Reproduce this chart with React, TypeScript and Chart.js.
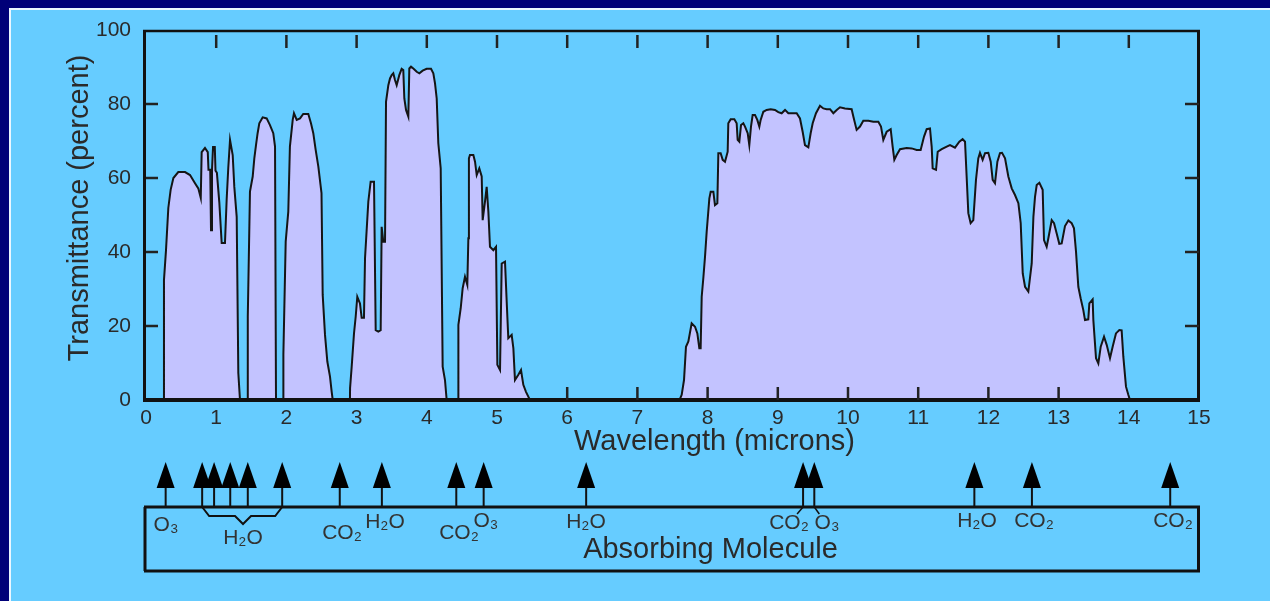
import React, { useEffect, useRef } from "react";
import { Chart, registerables } from "chart.js";

Chart.register(...registerables);

const FONT = '"Liberation Sans", Arial, Helvetica, sans-serif';

// Wavelength (microns) and transmittance (percent)
const wavelength = [
  0, 0.25,
  0.256, 0.285, 0.318, 0.351, 0.39, 0.46, 0.556, 0.627, 0.698, 0.745, 0.78, 0.793, 0.84, 0.88, 0.89, 0.915, 0.926, 0.94,
  0.955, 0.98, 0.99, 1.01, 1.044, 1.078, 1.125, 1.149, 1.172, 1.197, 1.235, 1.258, 1.292, 1.315, 1.339,
  1.449, 1.45, 1.481, 1.52, 1.543, 1.567, 1.59, 1.614, 1.662, 1.719, 1.766, 1.813, 1.838, 1.852,
  1.955, 1.957, 1.99, 2.027, 2.05, 2.09, 2.108, 2.147, 2.194, 2.24, 2.312, 2.35, 2.383, 2.417, 2.455, 2.5, 2.517,
  2.55, 2.583, 2.621, 2.645, 2.66,
  2.905, 2.907, 2.93, 2.963, 2.987, 3.01, 3.048, 3.072, 3.105, 3.12, 3.167, 3.2, 3.248, 3.272, 3.309, 3.343, 3.357,
  3.38, 3.405, 3.419, 3.452, 3.476, 3.5, 3.523, 3.547, 3.571, 3.608, 3.642, 3.665, 3.68, 3.704, 3.737, 3.751, 3.775,
  3.808, 3.856, 3.894, 3.941, 3.998, 4.06, 4.093, 4.117, 4.141, 4.164, 4.198, 4.226, 4.259, 4.283,
  4.448, 4.45, 4.483, 4.511, 4.544, 4.577, 4.592, 4.6, 4.615, 4.663, 4.687, 4.711, 4.748, 4.782, 4.796, 4.829, 4.853,
  4.877, 4.9, 4.948, 4.986, 5.005, 5.043, 5.067, 5.114, 5.138, 5.161, 5.209, 5.233, 5.256, 5.304, 5.342, 5.375,
  5.413, 5.446, 5.47,
  7.6, 7.631, 7.664, 7.692, 7.726, 7.773, 7.821, 7.854, 7.882, 7.901, 7.916, 7.939, 7.963, 7.987, 8.025, 8.044,
  8.082, 8.105, 8.139, 8.153, 8.186, 8.215, 8.248, 8.286, 8.295, 8.329, 8.381, 8.414, 8.428, 8.452, 8.476, 8.509,
  8.533, 8.571, 8.594, 8.618, 8.642, 8.675, 8.708, 8.737, 8.756, 8.794, 8.841, 8.898, 8.96, 9.007, 9.055, 9.103,
  9.15, 9.198, 9.269, 9.316, 9.354, 9.387, 9.435, 9.468, 9.497, 9.544, 9.601, 9.649, 9.696, 9.744, 9.791, 9.839,
  9.886, 9.957, 10.052, 10.076, 10.123, 10.171, 10.218, 10.29, 10.361, 10.432, 10.47, 10.503, 10.551, 10.608,
  10.636, 10.66, 10.693, 10.741, 10.836, 10.907, 10.978, 11.035, 11.083, 11.121, 11.168, 11.192, 11.206, 11.254,
  11.278, 11.335, 11.406, 11.453, 11.524, 11.586, 11.633, 11.667, 11.69, 11.714, 11.747, 11.785, 11.823, 11.856,
  11.88, 11.918, 11.952, 11.999, 12.033, 12.061, 12.094, 12.128, 12.165, 12.194, 12.237, 12.284, 12.332, 12.379,
  12.427, 12.46, 12.489, 12.522, 12.569, 12.617, 12.641, 12.664, 12.688, 12.726, 12.773, 12.792, 12.83, 12.854,
  12.902, 12.935, 12.972, 13.01, 13.044, 13.091, 13.139, 13.186, 13.219, 13.248, 13.281, 13.314, 13.352, 13.376,
  13.423, 13.438, 13.485, 13.495, 13.533, 13.566, 13.6, 13.647, 13.685, 13.732, 13.77, 13.817, 13.865, 13.898,
  13.922, 13.96, 13.993, 14.017, 15,
];

const transmittance = [
  0, 0,
  32.4, 40.5, 51.9, 56.8, 60.0, 61.6, 61.6, 60.8, 58.6, 57.2, 54.6, 67.0, 68.1, 67.0, 62.2, 62.2, 45.9, 62.0,
  68.4, 68.4, 62.0, 61.4, 53.5, 42.4, 42.4, 54.1, 62.7, 70.3, 66.2, 57.6, 49.5, 7.3, 0,
  0, 22.5, 56.3, 60.4, 65.3, 68.9, 72.1, 74.8, 76.4, 76.1, 74.3, 72.1, 68.5, 0,
  0, 12.2, 42.8, 50.9, 68.5, 75.7, 77.5, 75.7, 76.1, 77.3, 77.3, 74.8, 72.1, 67.6, 63.1, 55.9, 28.4,
  17.6, 10.4, 6.3, 2.2, 0,
  0, 3.2, 9.0, 18.0, 22.5, 27.9, 26.1, 22.2, 22.2, 38.3, 53.6, 59.0, 59.0, 18.9, 18.5, 18.9, 46.8,
  42.8, 42.8, 80.6, 85.1, 86.9, 87.8, 88.3, 86.5, 85.1, 87.8, 89.5, 89.2, 81.5, 78.4, 76.6, 89.6, 90.1,
  89.6, 88.7, 88.3, 89.0, 89.5, 89.5, 88.3, 85.6, 81.5, 69.4, 62.6, 9.0, 5.4, 0,
  0, 20.3, 24.8, 30.2, 33.3, 31.1, 43.7, 65.3, 66.2, 66.2, 64.4, 60.8, 62.6, 60.4, 48.6, 53.6, 57.6,
  50.9, 41.4, 40.5, 41.4, 9.5, 8.1, 36.9, 37.4, 26.6, 16.7, 17.6, 14.0, 5.4, 6.8, 8.1, 4.1,
  2.2, 0.9, 0,
  0, 1.4, 5.4, 14.4, 15.8, 20.7, 19.8, 18.0, 14.0, 14.0, 27.9, 32.9, 38.7, 45.5, 54.5, 56.3,
  56.3, 52.7, 53.2, 66.7, 66.7, 64.9, 64.4, 67.1, 74.8, 75.9, 75.9, 74.8, 70.3, 69.8, 74.3, 74.8,
  73.9, 72.1, 68.9, 73.9, 77.0, 77.0, 75.7, 73.9, 75.7, 77.9, 78.4, 78.6, 78.4, 77.8, 77.5, 78.4,
  77.5, 77.5, 77.5, 76.1, 72.5, 68.9, 68.3, 72.1, 74.8, 77.5, 79.5, 78.8, 78.6, 78.6, 77.5, 78.4,
  79.1, 78.8, 78.6, 76.6, 73.0, 73.9, 75.5, 75.5, 75.2, 75.2, 73.9, 70.3, 72.5, 73.2,
  68.5, 64.9, 66.2, 67.8, 68.1, 68.0, 67.6, 67.6, 71.2, 73.2, 73.4, 68.5, 62.6, 62.2,
  67.1, 67.8, 68.5, 68.9, 68.2, 69.8, 70.5, 69.8, 60.4, 50.5, 47.8, 48.6, 59.5, 65.3,
  66.8, 64.9, 66.7, 66.8, 64.4, 59.5, 58.6, 64.4, 66.7, 66.8, 65.3, 60.4, 57.2, 55.4,
  53.2, 47.8, 34.2, 30.6, 29.3, 36.9, 49.5, 54.9, 58.1, 58.7, 56.8, 43.2, 41.4, 43.7,
  48.6, 47.8, 45.1, 42.2, 42.3, 47.0, 48.5, 47.8, 46.4, 40.1, 30.6, 27.5, 24.3, 21.6,
  21.8, 26.1, 27.2, 21.6, 11.3, 9.9, 14.4, 17.1, 14.9, 11.3, 14.4, 18.0, 18.9, 18.8,
  11.7, 3.6, 1.4, 0, 0,
];

// Absorption arrows (microns)
const arrowWavelengths = [0.28, 0.8, 0.97, 1.2, 1.45, 1.94, 2.76, 3.36, 4.42, 4.81, 6.27, 9.36, 9.52, 11.8, 12.62, 14.59];

// Molecule labels and the wavelength each is centred on
const moleculeLabels = ["O\u2083", "H\u2082O", "CO\u2082", "H\u2082O", "CO\u2082", "O\u2083", "H\u2082O", "CO\u2082", "O\u2083", "H\u2082O", "CO\u2082", "CO\u2082"];
const moleculeLabelWavelengths = [0.285, 1.382, 2.792, 3.405, 4.459, 4.843, 6.268, 9.16, 9.701, 11.838, 12.65, 14.63];

// H2O bracket spans these arrows
const bracketFrom = 0.8;
const bracketTo = 1.94;

const X_TITLE = "Wavelength (microns)";
const Y_TITLE = "Transmittance (percent)";
const PANEL_TITLE = "Absorbing Molecule";

// layout (pixels) for the label rows
const labelRowY = [525, 538, 533, 522, 533, 521, 522, 523, 523, 521, 521, 521];

const line = (ctx: CanvasRenderingContext2D, x1: number, y1: number, x2: number, y2: number) => {
  ctx.beginPath();
  ctx.moveTo(x1, y1);
  ctx.lineTo(x2, y2);
  ctx.stroke();
};

const decorPlugin = {
  id: "decor",
  beforeDraw(chart: any) {
    const { ctx, width, height } = chart;
    ctx.save();
    ctx.fillStyle = "#66CCFF";
    ctx.fillRect(0, 0, width, height);
    ctx.fillStyle = "#000078";
    ctx.fillRect(0, 0, width, 8);
    ctx.fillRect(0, 0, 9, height);
    ctx.fillStyle = "#EAF6FF";
    ctx.fillRect(9, 8, width - 9, 2);
    ctx.fillRect(9, 8, 2, height - 8);
    ctx.restore();
  },
  afterDatasetsDraw(chart: any) {
    const { ctx, chartArea, scales } = chart;
    const { left, right, top, bottom } = chartArea;
    const xs = scales.x;
    const ys = scales.y;
    ctx.save();
    ctx.strokeStyle = "#111";
    ctx.lineCap = "butt";
    ctx.lineWidth = 2.5;
    line(ctx, left - 3, top + 1, right + 1, top + 1);
    ctx.lineWidth = 3;
    line(ctx, left - 1.5, top, left - 1.5, bottom);
    line(ctx, right - 0.5, top, right - 0.5, bottom + 2);
    ctx.lineWidth = 4;
    line(ctx, left - 3, bottom, right + 1, bottom);

    ctx.lineWidth = 2.5;
    ctx.strokeStyle = "#222";
    xs.ticks.forEach((t: any) => {
      if (t.value <= 0 || t.value >= 15) return;
      const px = xs.getPixelForValue(t.value);
      line(ctx, px, top + 5, px, top + 18);
      if (t.value >= 6 && t.value <= 13) line(ctx, px, bottom - 13, px, bottom);
    });
    ys.ticks.forEach((t: any) => {
      if (t.value <= 0 || t.value >= 100) return;
      const py = ys.getPixelForValue(t.value);
      line(ctx, left, py, left + 12, py);
      line(ctx, right - 14, py, right, py);
    });
    ctx.restore();
  },
  afterDraw(chart: any) {
    const { ctx, chartArea, scales } = chart;
    const { left, right, top, bottom } = chartArea;
    const xs = scales.x;
    const cx = (left + right) / 2;
    ctx.save();
    ctx.fillStyle = "#2a2a2a";
    ctx.textAlign = "center";
    ctx.textBaseline = "middle";
    ctx.font = `29px ${FONT}`;
    ctx.fillText(X_TITLE, cx + 42, bottom + 42);
    ctx.save();
    ctx.translate(80, (top + bottom) / 2 - 7);
    ctx.rotate(-Math.PI / 2);
    ctx.fillText(Y_TITLE, 0, 0);
    ctx.restore();

    // Absorbing molecule box
    const boxTop = 507;
    const boxBottom = 571;
    ctx.strokeStyle = "#111";
    ctx.lineWidth = 3;
    line(ctx, left - 2, boxTop, right + 1, boxTop);
    line(ctx, left - 2, boxBottom, right + 1, boxBottom);
    line(ctx, left - 1, boxTop, left - 1, boxBottom);
    line(ctx, right - 0.5, boxTop, right - 0.5, boxBottom);

    // arrows
    ctx.fillStyle = "#000";
    ctx.strokeStyle = "#111";
    arrowWavelengths.forEach((w) => {
      const px = xs.getPixelForValue(w);
      ctx.lineWidth = 2;
      line(ctx, px, 486, px, boxTop + 1);
      ctx.beginPath();
      ctx.moveTo(px, 462);
      ctx.lineTo(px + 3.5, 472);
      ctx.lineTo(px + 9, 488);
      ctx.lineTo(px - 9, 488);
      ctx.lineTo(px - 3.5, 472);
      ctx.closePath();
      ctx.fill();
    });

    // H2O bracket
    const bs = xs.getPixelForValue(bracketFrom);
    const be = xs.getPixelForValue(bracketTo);
    const bc = xs.getPixelForValue(moleculeLabelWavelengths[1]);
    ctx.lineWidth = 2;
    ctx.beginPath();
    ctx.moveTo(bs, boxTop);
    ctx.lineTo(bs + 7, 516);
    ctx.lineTo(bc - 8, 516);
    ctx.lineTo(bc, 524);
    ctx.lineTo(bc + 8, 516);
    ctx.lineTo(be - 7, 516);
    ctx.lineTo(be, boxTop);
    ctx.stroke();

    // CO2 / O3 connectors near 9.4 microns
    const c1 = xs.getPixelForValue(arrowWavelengths[11]);
    const c2 = xs.getPixelForValue(arrowWavelengths[12]);
    ctx.lineWidth = 1.5;
    line(ctx, c1, boxTop, c1 - 6, 514);
    line(ctx, c2, boxTop, c2 + 5, 514);

    // molecule labels
    ctx.fillStyle = "#333";
    ctx.font = `21px ${FONT}`;
    moleculeLabels.forEach((lab, i) => {
      ctx.fillText(lab, xs.getPixelForValue(moleculeLabelWavelengths[i]), labelRowY[i]);
    });

    ctx.fillStyle = "#2a2a2a";
    ctx.font = `29px ${FONT}`;
    ctx.fillText(PANEL_TITLE, cx + 38, 550);
    ctx.restore();
  },
};

export default function App() {
  const ref = useRef<HTMLCanvasElement | null>(null);
  useEffect(() => {
    document.body.style.margin = "0";
    document.body.style.overflow = "hidden";
    const canvas = ref.current;
    if (!canvas) return;
    const chart = new Chart(canvas, {
      type: "line",
      data: {
        datasets: [
          {
            data: wavelength.map((w, i) => ({ x: w, y: transmittance[i] })),
            borderColor: "#151515",
            borderWidth: 2,
            backgroundColor: "#C3C3FF",
            fill: "origin",
            pointRadius: 0,
            tension: 0,
          },
        ],
      },
      options: {
        animation: false,
        responsive: false,
        maintainAspectRatio: false,
        layout: { padding: { top: 30, right: 71, left: 0, bottom: 0 } },
        plugins: { legend: { display: false }, tooltip: { enabled: false } },
        scales: {
          x: {
            type: "linear",
            min: 0,
            max: 15,
            ticks: { stepSize: 1, autoSkip: false, maxRotation: 0, color: "#2a2a2a", padding: 6, font: { size: 21, family: FONT } },
            grid: { display: false, drawTicks: false },
            border: { display: false },
            afterFit: (s: any) => {
              s.height = 201;
            },
          },
          y: {
            min: 0,
            max: 100,
            ticks: { stepSize: 20, color: "#2a2a2a", padding: 15, font: { size: 21, family: FONT } },
            grid: { display: false, drawTicks: false },
            border: { display: false },
            afterFit: (s: any) => {
              s.width = 146;
            },
          },
        },
      },
      plugins: [decorPlugin],
    });
    return () => chart.destroy();
  }, []);
  return (
    <div style={{ width: 1270, height: 601 }}>
      <canvas ref={ref} width={1270} height={601} style={{ display: "block" }} />
    </div>
  );
}
